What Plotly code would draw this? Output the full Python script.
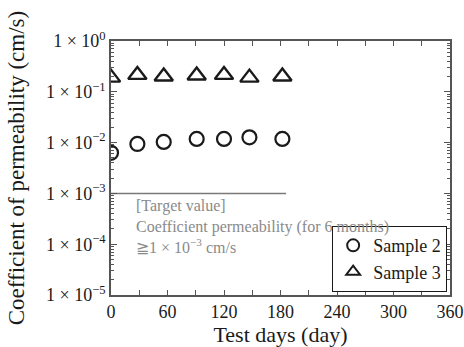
import plotly.graph_objects as go

days = [0, 28, 56, 91, 120, 147, 182]
sample2 = [0.0063, 0.0094, 0.0103, 0.0118, 0.0118, 0.0127, 0.0118]
sample3 = [0.19, 0.215, 0.20, 0.21, 0.215, 0.19, 0.20]
target_x = [0, 186]
target_y = [1e-3, 1e-3]

y_tickvals = [1e-5, 1e-4, 1e-3, 1e-2, 1e-1, 1e0]
y_ticktext = ["1 × 10<sup>−5</sup>", "1 × 10<sup>−4</sup>", "1 × 10<sup>−3</sup>",
              "1 × 10<sup>−2</sup>", "1 × 10<sup>−1</sup>", "1 × 10<sup>0</sup>"]
x_tickvals = [0, 60, 120, 180, 240, 300, 360]

minor_y = [m * 10 ** e for e in range(-5, 0) for m in range(2, 10)]

FONT = "Liberation Serif"
FRAME = "#555555"

fig = go.Figure()
fig.add_trace(go.Scatter(x=target_x, y=target_y, mode="lines",
                         line=dict(color="#7a7a7a", width=1.5),
                         showlegend=False, hoverinfo="skip"))
fig.add_trace(go.Scatter(x=days, y=sample2, mode="markers", name="Sample 2",
                         marker=dict(symbol="circle-open", size=14, color="#1a1a1a",
                                     line=dict(width=2.2, color="#1a1a1a"))))
fig.add_trace(go.Scatter(x=days, y=sample3, mode="markers", name="Sample 3",
                         marker=dict(symbol="triangle-up-open", size=16, color="#1a1a1a",
                                     line=dict(width=2.4, color="#1a1a1a"))))

fig.add_annotation(x=24, y=-3.04, xref="x", yref="y", showarrow=False,
                   xanchor="left", yanchor="top", align="left",
                   text="[Target value]<br>Coefficient permeability (for 6 months)<br>≧1 × 10<sup>−3</sup> cm/s",
                   font=dict(family=FONT, size=16, color="#8a8a8a"))

fig.update_layout(
    width=464, height=347,
    margin=dict(l=111, r=14, t=41, b=52, autoexpand=False),
    paper_bgcolor="white", plot_bgcolor="white",
    font=dict(family=FONT, color="#1a1a1a", size=18),
    showlegend=True,
    legend=dict(x=0.991, y=0.012, xanchor="right", yanchor="bottom",
                bordercolor="#1a1a1a", borderwidth=1.2, bgcolor="white",
                font=dict(family=FONT, size=18), itemsizing="constant",
                itemwidth=30, tracegroupgap=0, entrywidth=95,
                entrywidthmode="pixels"),
    xaxis=dict(range=[0, 360], tickvals=x_tickvals, ticks="inside", ticklen=5,
               tickcolor=FRAME, showline=True, linecolor=FRAME, linewidth=1.5,
               mirror="ticks", showgrid=False, zeroline=False, automargin=False,
               minor=dict(tickvals=[30, 90, 150, 210, 270, 330], ticks="inside",
                          ticklen=5, tickcolor=FRAME),
               title=dict(text="Test days (day)", font=dict(size=22), standoff=8),
               tickfont=dict(size=18)),
    yaxis=dict(type="log", range=[-5, 0], tickvals=y_tickvals, ticktext=y_ticktext,
               ticks="inside", ticklen=6, tickcolor=FRAME, showline=True,
               linecolor=FRAME, linewidth=1.5, mirror="ticks", showgrid=False,
               zeroline=False, automargin=False,
               minor=dict(tickvals=minor_y, ticks="inside", ticklen=3, tickcolor=FRAME),
               title=dict(text="Coefficient of permeability (cm/s)", font=dict(size=23),
                          standoff=15),
               tickfont=dict(size=18)),
)

fig.write_html("out.html")
